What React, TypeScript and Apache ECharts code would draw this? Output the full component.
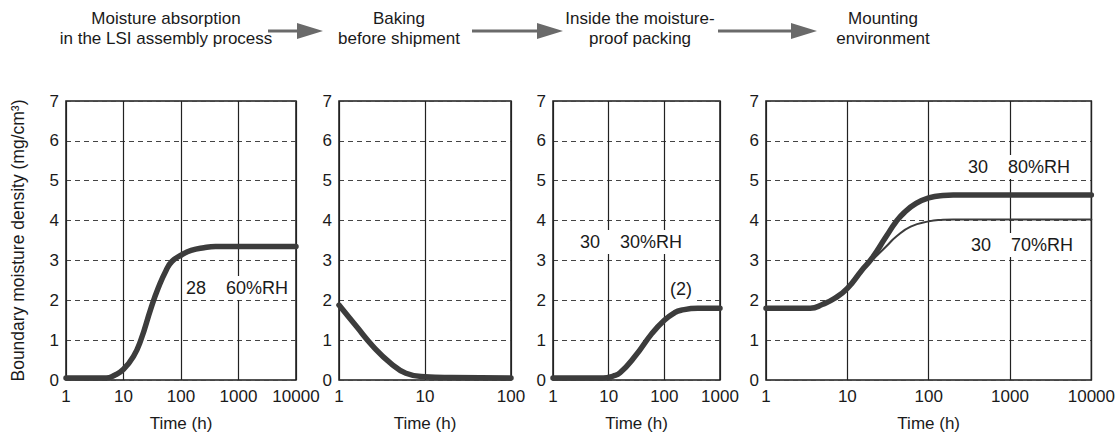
import React, { useEffect, useRef } from "react";
import * as echarts from "echarts";

// Time axis ranges (h) for the four stages
const stageMaxTime = [10000, 100, 1000, 10000];

// Stage 1: moisture absorption in the LSI assembly process (28, 60%RH)
const absorbTime = [1, 5, 7, 10, 15, 20, 30, 40, 55, 70, 100, 150, 250, 400, 10000];
const absorbDensity = [0.05, 0.05, 0.12, 0.27, 0.6, 1.0, 1.8, 2.3, 2.75, 2.98, 3.13, 3.25, 3.32, 3.35, 3.35];

// Stage 2: baking before shipment
const bakeTime = [1, 1.6, 2.5, 4, 6, 10, 20, 100];
const bakeDensity = [1.88, 1.34, 0.84, 0.42, 0.17, 0.08, 0.06, 0.05];

// Stage 3: inside the moisture-proof packing (30, 30%RH)
const packTime = [1, 8, 12, 16, 30, 60, 100, 150, 200, 400, 1000];
const packDensity = [0.05, 0.05, 0.1, 0.18, 0.6, 1.17, 1.5, 1.68, 1.75, 1.8, 1.8];

// Stage 4: mounting environment (30, 80%RH and 30, 70%RH)
const mount80Time = [1, 3.5, 5, 7, 10, 15, 20, 30, 40, 50, 70, 100, 150, 200, 10000];
const mount80Density = [1.8, 1.8, 1.9, 2.05, 2.3, 2.75, 3.05, 3.6, 3.98, 4.2, 4.43, 4.57, 4.63, 4.64, 4.64];
const mount70Time = [1, 3.5, 5, 7, 10, 15, 20, 30, 40, 60, 100, 150, 200, 10000];
const mount70Density = [1.8, 1.8, 1.9, 2.05, 2.3, 2.75, 3.0, 3.35, 3.6, 3.85, 3.98, 4.02, 4.03, 4.03];

const stageTitles = [
  ["Moisture absorption", "in the LSI assembly process"],
  ["Baking", "before shipment"],
  ["Inside the moisture-", "proof packing"],
  ["Mounting", "environment"],
];

const yTitle = "Boundary moisture density (mg/cm³)";
const xTitle = "Time (h)";
const gap = "\u00a0\u00a0\u00a0\u00a0";
const curveLabels = [
  { text: `28${gap}60%RH`, x: 184, y: 288 },
  { text: `30${gap}30%RH`, x: 578, y: 242 },
  { text: "(2)", x: 668, y: 289 },
  { text: `30${gap}80%RH`, x: 966, y: 167 },
  { text: `30${gap}70%RH`, x: 969, y: 245 },
];

const FONT = "'Liberation Sans', Arial, Helvetica, sans-serif";
const TEXT = "#1a1a1a";
const CURVE = "#3c3c3c";

const grids = [
  { left: 66, top: 101, width: 230, height: 279 },
  { left: 339, top: 101, width: 172, height: 279 },
  { left: 553, top: 101, width: 167, height: 279 },
  { left: 766, top: 101, width: 334, height: 279 },
];

const zip = (t: number[], v: number[]) => t.map((x, i) => [x, v[i]]);

function arrow(x1: number, x2: number, y: number) {
  const head = 26;
  return [
    {
      type: "line",
      z: 100,
      shape: { x1, y1: y, x2: x2 - head + 2, y2: y },
      style: { stroke: "#6a6a6a", lineWidth: 3 },
    },
    {
      type: "polygon",
      z: 100,
      shape: { points: [[x2 - head, y - 8], [x2, y], [x2 - head, y + 8]] },
      style: { fill: "#6a6a6a" },
    },
  ];
}

export default function App() {
  const ref = useRef<HTMLDivElement>(null);

  useEffect(() => {
    if (!ref.current) return;
    const chart = echarts.init(ref.current, undefined, { renderer: "svg" });

    const xAxes = grids.map((_, i) => ({
      type: "log",
      logBase: 10,
      gridIndex: i,
      min: 1,
      max: stageMaxTime[i],
      name: xTitle,
      nameLocation: "middle",
      nameGap: 35,
      nameTextStyle: { fontFamily: FONT, fontSize: 17, color: TEXT },
      axisLine: { show: false },
      axisTick: { show: false },
      minorTick: { show: false },
      axisLabel: {
        fontFamily: FONT,
        fontSize: 17,
        color: TEXT,
        margin: 8,
        formatter: (v: number) => String(Math.round(v)),
      },
      splitLine: { show: true, lineStyle: { color: "#222", width: 1.2, type: "solid" } },
    }));

    const yAxes = grids.map((_, i) => ({
      type: "value",
      gridIndex: i,
      min: 0,
      max: 7,
      interval: 1,
      name: i === 0 ? yTitle : "",
      nameLocation: "middle",
      nameGap: 39,
      nameRotate: 90,
      nameTextStyle: { fontFamily: FONT, fontSize: 17.5, color: TEXT },
      axisLine: { show: false },
      axisTick: { show: false },
      axisLabel: { fontFamily: FONT, fontSize: 17, color: TEXT, margin: 7 },
      splitLine: { show: true, lineStyle: { color: "#444", width: 1.2, type: [5, 4] } },
    }));

    const lineSeries = (data: number[][], idx: number, width: number) => ({
      type: "line",
      xAxisIndex: idx,
      yAxisIndex: idx,
      data,
      smooth: 0.5,
      showSymbol: false,
      symbol: "none",
      lineStyle: { color: CURVE, width, cap: "round", join: "round" },
      z: 5,
    });

    const graphics: any[] = [];
    stageTitles.forEach((lines, i) => {
      const cx = [166, 399, 640, 883][i];
      lines.forEach((t, j) => {
        graphics.push({
          type: "text",
          z: 100,
          x: cx,
          y: j === 0 ? 18 : 38,
          style: {
            text: t,
            fontFamily: FONT,
            fontSize: 17,
            fill: TEXT,
            align: "center",
            verticalAlign: "middle",
          },
        });
      });
    });
    graphics.push(...arrow(268, 323, 31), ...arrow(472, 563, 31), ...arrow(718, 817, 31));
    curveLabels.forEach((l) => {
      graphics.push({
        type: "text",
        z: 100,
        x: l.x,
        y: l.y,
        style: {
          text: l.text,
          fontFamily: FONT,
          fontSize: 18,
          fill: TEXT,
          align: "left",
          verticalAlign: "middle",
          backgroundColor: "#fff",
          padding: [3, 2, 3, 2],
        },
      });
    });

    chart.setOption({
      animation: false,
      backgroundColor: "#fff",
      textStyle: { fontFamily: FONT },
      grid: grids.map((g) => ({
        ...g,
        show: true,
        borderColor: "#1a1a1a",
        borderWidth: 1.5,
        backgroundColor: "transparent",
      })),
      xAxis: xAxes,
      yAxis: yAxes,
      series: [
        lineSeries(zip(absorbTime, absorbDensity), 0, 5.5),
        lineSeries(zip(bakeTime, bakeDensity), 1, 5.5),
        lineSeries(zip(packTime, packDensity), 2, 5.5),
        lineSeries(zip(mount70Time, mount70Density), 3, 2),
        lineSeries(zip(mount80Time, mount80Density), 3, 5.5),
      ],
      graphic: graphics,
    });

    return () => chart.dispose();
  }, []);

  return (
    <div
      ref={ref}
      style={{ position: "fixed", left: 0, top: 0, width: 1118, height: 444, background: "#fff" }}
    />
  );
}
